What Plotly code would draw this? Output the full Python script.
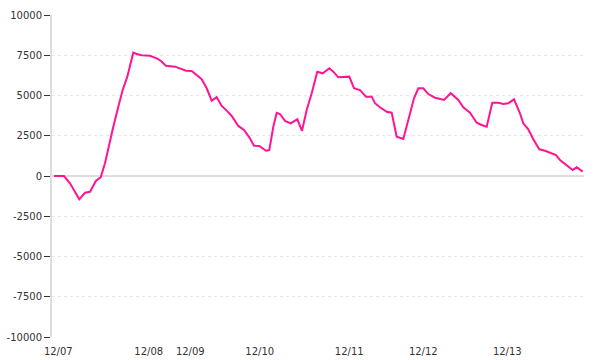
import plotly.graph_objects as go

# time position (arbitrary units along the x axis) and cumulative value
t = [2, 12, 18, 23, 27.3, 33, 38, 44, 48.7, 53, 58, 61.3, 66.3, 70.7, 75.3, 81.3, 84.7,
     89.7, 98, 104.7, 108.7, 114, 123, 127.3, 134, 139.7, 144.7, 149.7, 154.7, 159.7,
     164.7, 169.7, 174.7, 179.7, 186.3, 192, 197.3, 202, 207.3, 214, 217.3, 221.3,
     224.7, 228, 233, 238.7, 245.3, 250, 254.7, 259.7, 265.3, 270.7, 277.3, 281.3,
     286.3, 297.3, 302, 308, 314, 319.7, 323, 327.3, 334.7, 339.7, 344.7, 351.3,
     356.3, 362, 366.3, 371.3, 376.3, 383, 392, 398.7, 406.3, 411.3, 418, 424.7,
     429.7, 434.7, 440.3, 446.3, 451.3, 456.3, 462, 468, 471.3, 476.3, 481.3, 487.3,
     493, 498, 504, 508, 514.7, 520.7, 524.7, 530.7]
values = [0, 0, -450, -1040, -1450, -1040, -980, -290, -80, 790, 2240, 3060, 4300,
          5340, 6170, 7660, 7580, 7500, 7470, 7310, 7160, 6850, 6790, 6690, 6540,
          6520, 6270, 6010, 5450, 4680, 4890, 4350, 4060, 3730, 3110, 2860, 2400,
          1880, 1860, 1570, 1610, 3060, 3930, 3850, 3420, 3270, 3520, 2810, 4100,
          5140, 6480, 6380, 6690, 6480, 6130, 6170, 5450, 5340, 4930, 4930, 4520,
          4300, 3990, 3930, 2440, 2300, 3480, 4830, 5450, 5450, 5090, 4860, 4720,
          5140, 4720, 4270, 3930, 3310, 3170, 3060, 4550, 4550, 4470, 4520, 4760,
          3890, 3270, 2900, 2280, 1660, 1570, 1450, 1300, 990, 680, 370, 540, 270]

tick_pos = [6.3, 96.7, 138.3, 207.7, 297.2, 371.3, 455.3]
tick_labels = ["12/07", "12/08", "12/09", "12/10", "12/11", "12/12", "12/13"]
y_ticks = [-10000, -7500, -5000, -2500, 0, 2500, 5000, 7500, 10000]
y_tick_labels = ["-10000", "-7500", "-5000", "-2500", "0", "2500", "5000", "7500", "10000"]

fig = go.Figure()
fig.add_trace(go.Scatter(
    x=t, y=values, mode="lines",
    line=dict(color="#ff1493", width=2),
    hoverinfo="skip",
))

fig.update_layout(
    width=600, height=360,
    margin=dict(l=52, r=16, t=15, b=23),
    paper_bgcolor="white", plot_bgcolor="white",
    showlegend=False,
    font=dict(family="DejaVu Sans", size=10, color="#333333"),
)
fig.update_xaxes(
    range=[0, 532], automargin=False,
    tickmode="array", tickvals=tick_pos, ticktext=tick_labels,
    showgrid=False, zeroline=False, showline=False,
    ticks="outside", ticklen=5, tickcolor="rgba(0,0,0,0)",
    tickfont=dict(family="DejaVu Sans", size=10, color="#333333"),
)
fig.update_yaxes(
    range=[-10000, 10000], automargin=False,
    tickmode="array", tickvals=y_ticks, ticktext=y_tick_labels,
    showgrid=True, gridcolor="#e6e6e6", griddash="dot", gridwidth=1,
    zeroline=True, zerolinecolor="#dddddd", zerolinewidth=2,
    showline=True, linecolor="#dddddd", linewidth=2,
    ticks="outside", ticklen=6, tickcolor="#333333", tickwidth=1,
    tickfont=dict(family="DejaVu Sans", size=10, color="#333333"),
)

fig.write_html("out.html")
